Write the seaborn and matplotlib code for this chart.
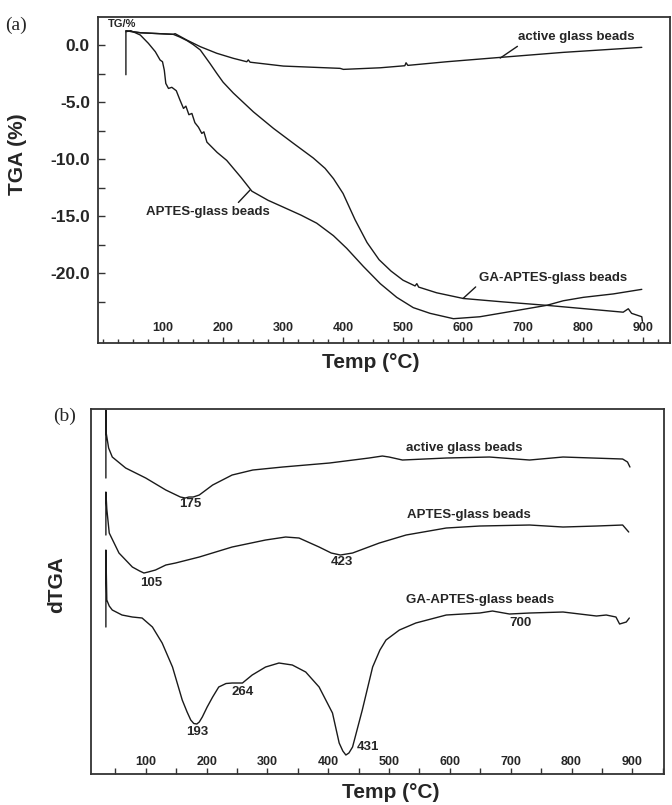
import numpy as np
import pandas as pd
import matplotlib.pyplot as plt
import matplotlib.ticker as mticker
import seaborn as sns

sns.set_theme(style="white")
plt.rcParams['font.family'] = ['Liberation Sans', 'DejaVu Sans']

# ---- (a) TGA, temperature (°C) vs mass change (%) ----
active_t = [38, 38, 62, 117, 120, 139.5, 162, 189.5, 217, 239.5, 242, 245, 300.5,
            395, 400.5, 462, 503, 505, 508, 573, 662, 767, 898]
active_tga = [-2.6, 1.25, 1.08, 0.94, 1.0, 0.44, -0.14, -0.72, -1.16, -1.46, -1.3, -1.5,
              -1.84, -2.04, -2.13, -1.99, -1.81, -1.55, -1.78, -1.46, -1.08, -0.64, -0.2]

aptes_t = [38, 46, 62, 75.5, 87, 95, 99, 102, 104.5, 109, 114.5, 122, 128, 134, 138,
           143, 148, 153, 159, 164.5, 168, 173, 190, 206, 230, 248, 275, 300.5, 330, 356,
           384, 406, 434, 462, 489.5, 517, 545, 584, 628, 684, 739.5, 767, 800.5, 850.5, 898]
aptes_tga = [1.17, 1.26, 0.88, 0.15, -0.58, -1.31, -1.46, -2.2, -3.36, -3.8, -3.7, -4.0,
             -4.8, -5.55, -5.35, -6.1, -5.99, -6.8, -7.2, -7.74, -7.6, -8.5, -9.4, -10.1,
             -11.6, -12.8, -13.6, -14.2, -14.9, -15.6, -16.7, -17.8, -19.4, -20.9, -22.1,
             -23.0, -23.5, -23.97, -23.8, -23.3, -22.8, -22.4, -22.1, -21.8, -21.4]

ga_t = [38, 62, 117, 128, 139.5, 150, 162, 178, 189.5, 200, 217, 250.5, 284, 317, 350.5,
        370, 384, 400, 420, 440, 460, 480, 500, 520, 523, 526, 556, 600.5, 667, 739.5,
        867, 875.5, 881, 898, 899]
ga_tga = [1.25, 1.08, 0.94, 0.7, 0.4, 0.05, -0.43, -1.6, -2.48, -3.25, -4.2, -5.85, -7.3,
          -8.6, -9.9, -10.8, -11.7, -13.0, -15.3, -17.3, -18.8, -19.8, -20.6, -21.1,
          -20.9, -21.2, -21.7, -22.2, -22.5, -22.8, -23.4, -23.1, -23.5, -23.8, -24.2]

tga_ticks = [0, -5, -10, -15, -20]
tga_ticklabels = ["0.0", "-5.0", "-10.0", "-15.0", "-20.0"]
temp_ticks = [100, 200, 300, 400, 500, 600, 700, 800, 900]

# ---- (b) dTGA (arbitrary, stacked) ----
d_active_t = [34.5, 34.5, 35, 39, 45, 67, 100, 133, 157, 165, 171, 178, 188, 210, 242,
              276, 325, 402, 467, 489, 500, 522, 594, 665, 731, 786, 884, 892, 896]
d_active = [29.6, 36.4, 34.1, 32.6, 31.7, 30.6, 29.6, 28.4, 27.7, 27.6, 27.7, 27.7, 27.9,
            28.9, 29.9, 30.4, 30.7, 31.1, 31.6, 31.8, 31.7, 31.4, 31.6, 31.7, 31.4, 31.7,
            31.5, 31.2, 30.7]

d_aptes_t = [34.5, 34.5, 36, 40, 56, 78, 90, 97, 104, 116, 133, 149, 188, 242, 297, 330,
             352, 385, 405, 420, 440, 484, 528, 594, 649, 731, 786, 841, 884, 894]
d_aptes = [23.9, 28.2, 26.5, 24.1, 22.1, 20.7, 20.3, 20.1, 20.2, 20.4, 20.9, 21.1, 21.7,
           22.7, 23.4, 23.7, 23.6, 22.7, 22.1, 21.9, 22.1, 23.1, 23.9, 24.6, 24.8, 24.9,
           24.7, 24.8, 24.9, 24.2]

d_ga_t = [34.5, 34.5, 36, 40, 45, 61, 78, 94, 111, 127, 144, 160, 168, 174, 179, 184, 188,
          193, 201, 210, 220, 232, 242, 259, 275, 297, 319, 341, 363, 385, 407, 418, 424,
          429, 434, 440, 456, 473, 485, 495, 517, 544, 594, 649, 670, 698, 731, 786, 841,
          857, 873, 879, 890, 895]
d_ga = [14.7, 22.4, 17.4, 16.8, 16.4, 15.9, 15.7, 15.6, 14.7, 13.1, 10.7, 7.4, 6.2, 5.4,
        5.05, 5.0, 5.2, 5.7, 6.7, 7.7, 8.7, 9.05, 9.1, 9.1, 9.9, 10.7, 11.1, 10.9, 10.2,
        8.7, 6.1, 3.1, 2.3, 1.9, 2.1, 2.7, 6.4, 10.7, 12.4, 13.4, 14.4, 15.1, 15.9, 16.1,
        16.3, 16.0, 16.1, 16.2, 15.8, 15.9, 15.7, 15.0, 15.2, 15.6]

peak_labels = ["175", "105", "423", "193", "264", "431", "700"]
peak_x = [173, 109, 422, 184, 260, 466, 716]
peak_y = [27.0, 19.1, 21.2, 4.2, 8.2, 2.7, 15.1]

line_kw = dict(color="#1a1a1a", linewidth=1.0, sort=False, estimator=None)
spine_col = "#333333"

fig = plt.figure(figsize=(6.72, 8.05), dpi=100)
ax1 = fig.add_axes([0.1463, 0.5739, 0.8507, 0.405])
ax2 = fig.add_axes([0.1354, 0.0385, 0.8527, 0.4534])

for ax in (ax1, ax2):
    for s in ax.spines.values():
        s.set_color(spine_col)
        s.set_linewidth(1.3)

# panel (a)
sns.lineplot(x=active_t, y=active_tga, ax=ax1, **line_kw)
sns.lineplot(x=aptes_t, y=aptes_tga, ax=ax1, **line_kw)
sns.lineplot(x=ga_t, y=ga_tga, ax=ax1, **line_kw)
ax1.set_xlim(-8, 945)
ax1.set_ylim(-26.1, 2.46)
ax1.set_yticks(tga_ticks)
ax1.set_yticklabels(tga_ticklabels)
ax1.yaxis.set_minor_locator(mticker.FixedLocator([-2.5, -7.5, -12.5, -17.5, -22.5]))
ax1.set_xticks(temp_ticks)
ax1.xaxis.set_minor_locator(mticker.MultipleLocator(25))
ax1.tick_params(axis="y", which="both", direction="in", length=5, width=1, color=spine_col,
                labelsize=12.5, pad=6, left=True)
ax1.tick_params(axis="x", which="major", direction="in", length=4, width=1, color=spine_col,
                labelsize=9, pad=-15, bottom=True)
ax1.tick_params(axis="x", which="minor", direction="in", length=3, width=1, color=spine_col,
                bottom=True)
for lab in ax1.get_yticklabels() + ax1.get_xticklabels():
    lab.set_fontweight("bold")
ax1.set_xlabel("Temp (°C)", fontsize=15, fontweight="bold")
ax1.xaxis.set_label_coords(0.477, -0.03)
ax1.set_ylabel("TGA (%)", fontsize=15, fontweight="bold")
ax1.yaxis.set_label_coords(-0.124, 0.58)

ax1.text(8, 1.85, "TG/%", fontsize=8, fontweight="bold", va="center", ha="left")
ax1.annotate("active glass beads", xy=(662, -1.14), xytext=(788, 0.7), fontsize=9.5,
             fontweight="bold", ha="center", va="center",
             arrowprops=dict(arrowstyle="-", color="#1a1a1a", lw=1, relpos=(0.04, 0.0),
                             shrinkA=0, shrinkB=0))
ax1.annotate("APTES-glass beads", xy=(245, -12.7), xytext=(175, -14.6), fontsize=9.5,
             fontweight="bold", ha="center", va="center",
             arrowprops=dict(arrowstyle="-", color="#1a1a1a", lw=1, relpos=(0.72, 1.0),
                             shrinkA=0, shrinkB=0))
ax1.annotate("GA-APTES-glass beads", xy=(600, -22.2), xytext=(750, -20.4), fontsize=9.5,
             fontweight="bold", ha="center", va="center",
             arrowprops=dict(arrowstyle="-", color="#1a1a1a", lw=1, relpos=(0.0, 0.0),
                             shrinkA=0, shrinkB=0))

# panel (b)
sns.lineplot(x=d_active_t, y=d_active, ax=ax2, **line_kw)
sns.lineplot(x=d_aptes_t, y=d_aptes, ax=ax2, **line_kw)
sns.lineplot(x=d_ga_t, y=d_ga, ax=ax2, **line_kw)
ax2.set_xlim(10, 952)
ax2.set_ylim(0, 36.5)
ax2.set_yticks([])
ax2.set_xticks(temp_ticks)
ax2.xaxis.set_minor_locator(mticker.MultipleLocator(50))
ax2.tick_params(axis="x", which="both", direction="in", length=4, width=1, color=spine_col,
                labelsize=9, pad=-13, bottom=True)
for lab in ax2.get_xticklabels():
    lab.set_fontweight("bold")
ax2.set_xlabel("Temp (°C)", fontsize=15, fontweight="bold")
ax2.xaxis.set_label_coords(0.524, -0.025)
ax2.set_ylabel("dTGA", fontsize=15, fontweight="bold")
ax2.yaxis.set_label_coords(-0.044, 0.518)

for name, tx, ty in [("active glass beads", 624, 32.6), ("APTES-glass beads", 631, 25.9),
                     ("GA-APTES-glass beads", 650, 17.4)]:
    ax2.text(tx, ty, name, fontsize=9.5, fontweight="bold", ha="center", va="center")
for lab, px, py in zip(peak_labels, peak_x, peak_y):
    ax2.text(px, py, lab, fontsize=9.5, fontweight="bold", ha="center", va="center")

fig.text(5 / 672, 1 - 25 / 805, "(a)", fontsize=14, family="Liberation Serif", va="center")
fig.text(53 / 672, 1 - 416 / 805, "(b)", fontsize=14, family="Liberation Serif", va="center")

fig.savefig("out.png", dpi=100)
